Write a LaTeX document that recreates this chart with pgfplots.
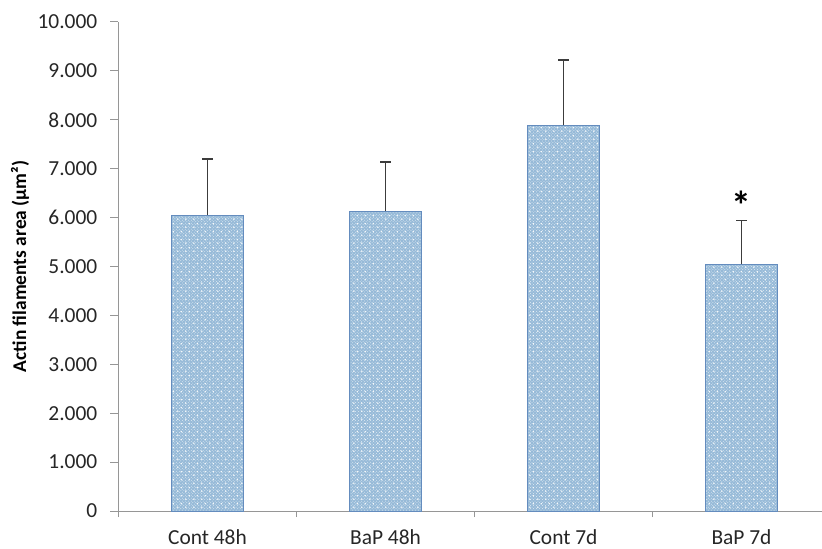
\documentclass[border=0pt]{standalone}
\usepackage{fontspec}
\setmainfont{Carlito}
\usepackage{pgfplots}
\pgfplotsset{compat=1.18}
\usetikzlibrary{patterns}
\pgfdeclarepatternformonly{bigdots}{\pgfqpoint{0bp}{0bp}}{\pgfqpoint{8bp}{8bp}}{\pgfqpoint{8bp}{8bp}}{%
  \pgfpathcircle{\pgfqpoint{2bp}{2bp}}{0.9bp}%
  \pgfpathcircle{\pgfqpoint{6bp}{6bp}}{0.9bp}%
  \pgfusepath{fill}}
\definecolor{barfill}{RGB}{150,186,216}
\definecolor{baredge}{RGB}{100,140,190}
\definecolor{axisgray}{RGB}{150,150,150}
\definecolor{errgray}{RGB}{60,60,60}
\begin{document}
\begin{tikzpicture}
\begin{axis}[
  scale only axis, width=703.5bp, height=489bp,
  xmin=-0.5, xmax=3.4522, ymin=0, ymax=10,
  axis x line*=bottom, axis y line*=left,
  axis line style={axisgray, line width=1bp},
  xtick={0,1,2,3}, xticklabels={Cont 48h, BaP 48h, Cont 7d, BaP 7d},
  minor xtick={-0.5,0.5,1.5,2.5},
  ytick={0,1,...,10},
  yticklabels={0,1.000,2.000,3.000,4.000,5.000,6.000,7.000,8.000,9.000,10.000},
  tick align=outside, major tick length=8bp, minor tick length=6bp,
  tick style={axisgray, line width=1bp},
  major x tick style={draw=none},
  ticklabel style={font=\fontsize{21.5}{25}\selectfont, text=black!85},
  yticklabel style={anchor=east, inner sep=0pt, xshift=-13bp},
  xticklabel style={anchor=base, inner sep=0pt, yshift=-25bp},
  ylabel={\fontsize{19.5}{22}\selectfont\bfseries Actin filaments area (µm²)},
  ylabel style={at={(axis description cs:-0.14,0.5)}, anchor=center},
]
\addplot[ybar, bar width=72bp, fill=barfill, draw=baredge, line width=0.8bp,
  postaction={pattern=crosshatch dots, pattern color=white!70!barfill},
  postaction={pattern=bigdots, pattern color=white}]
  coordinates {(0,6.05) (1,6.13) (2,7.89) (3,5.05)};
\addplot[draw=none, mark=none,
  error bars/.cd, y dir=plus, y explicit,
  error bar style={errgray, line width=1.3bp},
  error mark options={rotate=90, mark size=5.5bp, line width=1.3bp, errgray}]
  coordinates {(0,6.05) +- (0,1.15) (1,6.13) +- (0,1.01) (2,7.89) +- (0,1.33) (3,5.05) +- (0,0.89)};
\addplot[draw=none, mark=none, nodes near coords={\fontsize{40}{40}\selectfont\bfseries *},
  nodes near coords style={anchor=center, text=black, yshift=-5bp}]
  coordinates {(3,6.36)};
\end{axis}
\pgfresetboundingbox
\path[use as bounding box] ([xshift=-118.5bp,yshift=-38bp]current axis.south west) rectangle ([yshift=22bp]current axis.north east);
\end{tikzpicture}
\end{document}
